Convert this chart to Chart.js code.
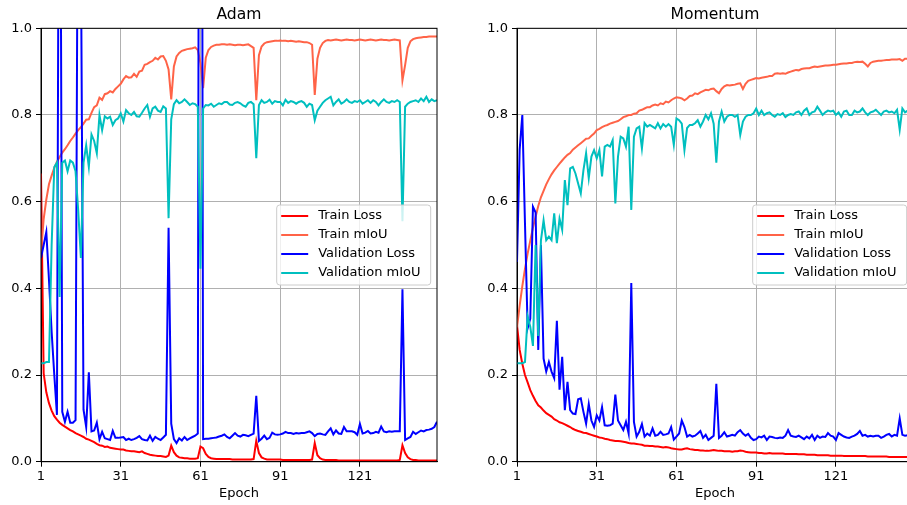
<!DOCTYPE html>
<html><head><meta charset="utf-8">
<script src="https://cdn.jsdelivr.net/npm/chart.js@4/dist/chart.umd.min.js"></script>
<style>
html,body{margin:0;padding:0;background:#fff;overflow:hidden;width:907px;height:505px;position:relative;}
#c1{position:absolute;left:0;top:0;}
#c2{position:absolute;left:476px;top:0;}
</style></head><body>
<canvas id="c1" width="478" height="505"></canvas>
<canvas id="c2" width="478" height="505"></canvas>
<script>
const epochs = Array.from({length:150},(_,i)=>i+1);
const xTicks = [1,31,61,91,121];
const yTicks = [0,0.2,0.4,0.6,0.8,1.0];
const seriesNames = ['Train Loss','Train mIoU','Validation Loss','Validation mIoU'];
const titles = ['Adam','Momentum'];

const adamTrainLoss = [
0.665,0.204,0.160,0.135,0.118,0.105,0.097,0.090,0.085,0.081,
0.077,0.073,0.070,0.066,0.063,0.060,0.057,0.053,0.051,0.048,
0.045,0.041,0.038,0.037,0.034,0.035,0.032,0.031,0.030,0.029,
0.028,0.028,0.026,0.025,0.024,0.024,0.023,0.022,0.024,0.020,
0.018,0.016,0.015,0.014,0.013,0.013,0.012,0.011,0.014,0.037,
0.022,0.014,0.010,0.009,0.008,0.008,0.007,0.007,0.007,0.008,
0.035,0.031,0.018,0.011,0.008,0.007,0.006,0.006,0.006,0.006,
0.006,0.006,0.005,0.005,0.005,0.005,0.005,0.005,0.005,0.005,
0.006,0.048,0.020,0.010,0.007,0.005,0.005,0.005,0.005,0.005,
0.005,0.004,0.004,0.004,0.004,0.004,0.004,0.004,0.004,0.004,
0.004,0.004,0.005,0.043,0.015,0.008,0.005,0.004,0.004,0.004,
0.004,0.004,0.003,0.003,0.003,0.003,0.003,0.003,0.003,0.003,
0.003,0.003,0.003,0.003,0.003,0.003,0.003,0.003,0.003,0.003,
0.003,0.003,0.003,0.003,0.003,0.004,0.038,0.020,0.010,0.006,
0.004,0.004,0.003,0.003,0.003,0.003,0.003,0.003,0.003,0.003];

const adamTrainMiou = [
0.480,0.560,0.605,0.640,0.660,0.678,0.692,0.703,0.713,0.721,
0.730,0.740,0.748,0.757,0.765,0.772,0.780,0.789,0.790,0.805,
0.818,0.822,0.840,0.835,0.848,0.850,0.855,0.852,0.860,0.866,
0.872,0.882,0.890,0.886,0.887,0.895,0.888,0.900,0.902,0.916,
0.918,0.922,0.925,0.932,0.928,0.935,0.936,0.925,0.905,0.836,
0.912,0.935,0.943,0.948,0.950,0.952,0.953,0.954,0.956,0.950,
0.920,0.862,0.932,0.950,0.957,0.960,0.962,0.962,0.963,0.963,
0.962,0.963,0.962,0.961,0.962,0.962,0.961,0.962,0.963,0.959,
0.955,0.834,0.938,0.958,0.965,0.968,0.969,0.970,0.971,0.971,
0.972,0.971,0.971,0.970,0.971,0.970,0.969,0.970,0.969,0.968,
0.968,0.966,0.962,0.846,0.930,0.955,0.966,0.971,0.973,0.972,
0.973,0.974,0.973,0.972,0.973,0.974,0.973,0.973,0.972,0.973,
0.974,0.973,0.972,0.973,0.974,0.973,0.972,0.973,0.974,0.973,
0.973,0.972,0.973,0.974,0.973,0.972,0.880,0.915,0.955,0.970,
0.975,0.977,0.978,0.979,0.980,0.980,0.981,0.981,0.981,0.981];

const adamValLoss = [
0.470,0.500,0.530,0.420,0.300,0.200,0.108,2.000,0.115,0.092,
0.115,0.090,0.090,0.096,1.600,1.200,0.120,0.080,0.206,0.070,
0.072,0.090,0.052,0.069,0.054,0.052,0.050,0.071,0.055,0.055,
0.056,0.057,0.050,0.053,0.050,0.052,0.055,0.059,0.052,0.050,
0.049,0.060,0.048,0.057,0.053,0.050,0.056,0.062,0.540,0.088,
0.052,0.043,0.054,0.049,0.057,0.050,0.054,0.057,0.060,0.065,
3.500,0.052,0.053,0.053,0.054,0.055,0.056,0.058,0.060,0.063,
0.057,0.054,0.060,0.066,0.060,0.058,0.062,0.061,0.059,0.062,
0.065,0.152,0.048,0.053,0.060,0.052,0.055,0.067,0.063,0.062,
0.063,0.065,0.069,0.066,0.066,0.064,0.066,0.065,0.066,0.066,
0.068,0.070,0.066,0.059,0.064,0.065,0.063,0.062,0.070,0.077,
0.063,0.072,0.065,0.064,0.080,0.070,0.070,0.070,0.068,0.062,
0.087,0.065,0.067,0.071,0.065,0.066,0.069,0.067,0.081,0.070,
0.068,0.070,0.069,0.070,0.070,0.070,0.398,0.050,0.054,0.057,
0.069,0.064,0.068,0.072,0.070,0.073,0.074,0.076,0.080,0.092];

const adamValMiou = [
0.227,0.227,0.230,0.230,0.500,0.680,0.690,0.380,0.690,0.695,
0.670,0.695,0.690,0.670,0.580,0.470,0.690,0.730,0.680,0.755,
0.740,0.712,0.800,0.765,0.797,0.792,0.796,0.777,0.788,0.792,
0.804,0.785,0.811,0.804,0.800,0.807,0.797,0.796,0.805,0.815,
0.823,0.796,0.815,0.819,0.810,0.807,0.820,0.815,0.562,0.790,
0.825,0.834,0.827,0.830,0.836,0.830,0.823,0.827,0.825,0.819,
0.445,0.815,0.823,0.822,0.826,0.819,0.823,0.827,0.825,0.830,
0.830,0.824,0.823,0.828,0.830,0.827,0.822,0.819,0.828,0.830,
0.825,0.700,0.823,0.834,0.828,0.830,0.835,0.826,0.832,0.830,
0.830,0.822,0.835,0.828,0.832,0.830,0.826,0.830,0.832,0.828,
0.819,0.826,0.823,0.788,0.810,0.819,0.828,0.834,0.838,0.842,
0.822,0.830,0.836,0.826,0.830,0.836,0.830,0.828,0.832,0.830,
0.834,0.826,0.830,0.834,0.828,0.834,0.830,0.822,0.830,0.836,
0.830,0.828,0.832,0.830,0.834,0.830,0.555,0.819,0.826,0.830,
0.832,0.834,0.830,0.838,0.832,0.842,0.830,0.836,0.832,0.834];

const momTrainLoss = [
0.315,0.258,0.226,0.200,0.183,0.165,0.152,0.140,0.130,0.125,
0.118,0.112,0.108,0.104,0.098,0.095,0.091,0.089,0.086,0.083,
0.080,0.076,0.073,0.071,0.069,0.067,0.066,0.064,0.062,0.060,
0.058,0.056,0.055,0.053,0.052,0.050,0.049,0.048,0.048,0.047,
0.046,0.045,0.043,0.042,0.042,0.041,0.040,0.039,0.037,0.037,
0.036,0.036,0.035,0.035,0.034,0.033,0.034,0.033,0.031,0.030,
0.029,0.028,0.028,0.030,0.031,0.029,0.028,0.027,0.027,0.026,
0.026,0.025,0.025,0.026,0.027,0.026,0.025,0.025,0.024,0.024,
0.024,0.023,0.024,0.024,0.026,0.025,0.023,0.022,0.021,0.021,
0.021,0.020,0.020,0.019,0.019,0.020,0.019,0.019,0.019,0.019,
0.019,0.018,0.018,0.018,0.018,0.018,0.017,0.017,0.017,0.016,
0.016,0.016,0.016,0.015,0.015,0.015,0.015,0.015,0.014,0.014,
0.014,0.014,0.014,0.013,0.013,0.013,0.013,0.013,0.013,0.013,
0.013,0.013,0.012,0.012,0.012,0.012,0.012,0.012,0.012,0.012,
0.011,0.011,0.011,0.011,0.011,0.011,0.011,0.011,0.011,0.011];

const momTrainMiou = [
0.310,0.360,0.405,0.445,0.480,0.510,0.540,0.565,0.590,0.610,
0.625,0.640,0.652,0.663,0.672,0.680,0.688,0.695,0.702,0.708,
0.712,0.720,0.725,0.730,0.735,0.740,0.745,0.746,0.752,0.757,
0.765,0.768,0.772,0.775,0.777,0.780,0.782,0.784,0.786,0.790,
0.795,0.797,0.800,0.800,0.803,0.804,0.810,0.812,0.815,0.818,
0.818,0.822,0.824,0.822,0.827,0.825,0.831,0.829,0.834,0.838,
0.841,0.840,0.838,0.834,0.838,0.844,0.845,0.850,0.848,0.852,
0.855,0.858,0.857,0.860,0.861,0.855,0.850,0.860,0.866,0.869,
0.868,0.869,0.870,0.872,0.873,0.860,0.872,0.879,0.881,0.883,
0.885,0.884,0.886,0.887,0.888,0.890,0.890,0.895,0.896,0.895,
0.896,0.895,0.898,0.900,0.902,0.904,0.903,0.906,0.907,0.908,
0.908,0.910,0.912,0.911,0.912,0.913,0.914,0.914,0.915,0.916,
0.916,0.917,0.918,0.919,0.919,0.920,0.920,0.922,0.923,0.922,
0.923,0.918,0.912,0.920,0.923,0.924,0.925,0.925,0.926,0.927,
0.927,0.928,0.928,0.928,0.929,0.925,0.930,0.930,0.931,0.931];

const momValLoss = [
0.461,0.720,0.800,0.550,0.308,0.330,0.588,0.575,0.258,0.500,
0.238,0.208,0.230,0.208,0.193,0.325,0.166,0.242,0.119,0.184,
0.119,0.111,0.110,0.144,0.146,0.115,0.088,0.133,0.095,0.080,
0.107,0.095,0.126,0.084,0.083,0.084,0.088,0.155,0.095,0.084,
0.073,0.092,0.065,0.412,0.092,0.058,0.069,0.087,0.058,0.065,
0.060,0.077,0.060,0.062,0.069,0.062,0.063,0.065,0.080,0.051,
0.058,0.065,0.095,0.080,0.058,0.062,0.058,0.060,0.065,0.071,
0.055,0.062,0.050,0.055,0.060,0.180,0.055,0.060,0.068,0.058,
0.060,0.062,0.060,0.068,0.073,0.065,0.060,0.064,0.055,0.050,
0.052,0.058,0.056,0.060,0.050,0.058,0.057,0.055,0.054,0.056,
0.055,0.060,0.073,0.060,0.058,0.057,0.060,0.056,0.052,0.058,
0.054,0.062,0.050,0.060,0.055,0.058,0.057,0.066,0.060,0.058,
0.050,0.066,0.062,0.058,0.056,0.055,0.058,0.060,0.064,0.071,
0.060,0.062,0.058,0.060,0.058,0.060,0.060,0.055,0.058,0.062,
0.064,0.058,0.062,0.060,0.100,0.062,0.060,0.061,0.062,0.060];

const momValMiou = [
0.227,0.227,0.227,0.230,0.336,0.311,0.267,0.500,0.290,0.510,
0.557,0.511,0.519,0.511,0.573,0.504,0.561,0.535,0.650,0.592,
0.677,0.680,0.665,0.642,0.619,0.673,0.712,0.654,0.704,0.719,
0.700,0.719,0.658,0.727,0.731,0.727,0.742,0.596,0.704,0.750,
0.746,0.727,0.773,0.581,0.750,0.769,0.773,0.723,0.781,0.773,
0.777,0.773,0.769,0.781,0.769,0.779,0.773,0.779,0.773,0.731,
0.792,0.788,0.780,0.719,0.770,0.777,0.777,0.781,0.788,0.773,
0.785,0.800,0.790,0.804,0.780,0.690,0.785,0.808,0.785,0.796,
0.800,0.800,0.796,0.800,0.754,0.785,0.796,0.800,0.800,0.804,
0.815,0.800,0.810,0.800,0.804,0.806,0.800,0.796,0.802,0.800,
0.804,0.795,0.800,0.802,0.800,0.806,0.808,0.800,0.810,0.815,
0.800,0.806,0.808,0.819,0.810,0.800,0.806,0.810,0.808,0.810,
0.800,0.806,0.796,0.808,0.810,0.800,0.800,0.810,0.806,0.808,
0.815,0.806,0.800,0.806,0.808,0.812,0.806,0.800,0.808,0.810,
0.806,0.808,0.804,0.812,0.766,0.815,0.806,0.810,0.815,0.810];

const colors = ['#ff0000','#ff6347','#0000ff','#00bfbf'];
const FONT = 'DejaVu Sans';

const framePlugin = {
  id:'frame',
  afterDatasetsDraw(chart){
    const {ctx, chartArea:a} = chart;
    ctx.save();
    ctx.strokeStyle = '#000';
    ctx.lineWidth = 1;
    ctx.strokeRect(a.left, a.top, a.right - a.left, a.bottom - a.top);
    ctx.restore();
  }
};

const titlePlugin = {
  id:'axesTitle',
  afterDraw(chart, args, opts){
    const {ctx, chartArea:a} = chart;
    ctx.save();
    ctx.font = '15.6px "' + FONT + '"';
    ctx.fillStyle = '#000';
    ctx.textAlign = 'center';
    ctx.textBaseline = 'middle';
    ctx.fillText(opts.text, (a.left + a.right) / 2, 15.2);
    ctx.restore();
  }
};

const legendPlugin = {
  id:'boxLegend',
  afterDraw(chart){
    const {ctx, chartArea:a} = chart;
    const ds = chart.data.datasets;
    const w = 154, h = 80, rowH = 19;
    const x = a.right - 6.3 - w;
    const y = (a.top + a.bottom) / 2 - h / 2;
    ctx.save();
    ctx.beginPath();
    if (ctx.roundRect) ctx.roundRect(x, y, w, h, 3); else ctx.rect(x, y, w, h);
    ctx.fillStyle = 'rgba(255,255,255,0.8)';
    ctx.fill();
    ctx.strokeStyle = '#cccccc';
    ctx.lineWidth = 1;
    ctx.stroke();
    ctx.font = '13px "' + FONT + '"';
    ctx.textBaseline = 'middle';
    ctx.textAlign = 'left';
    ds.forEach((d, i) => {
      const yy = y + 11 + i * rowH;
      ctx.strokeStyle = d.borderColor;
      ctx.lineWidth = 2;
      ctx.beginPath();
      ctx.moveTo(x + 4.5, yy);
      ctx.lineTo(x + 31.5, yy);
      ctx.stroke();
      ctx.fillStyle = '#000';
      ctx.fillText(d.label, x + 41.5, yy);
    });
    ctx.restore();
  }
};

function toXY(arr){ return epochs.map((e, i) => ({x: e, y: arr[i]})); }

function makeChart(id, title, series){
  const tickFont = {family: FONT, size: 13};
  return new Chart(document.getElementById(id), {
    type: 'line',
    data: {
      datasets: series.map((arr, i) => ({
        label: seriesNames[i],
        data: toXY(arr),
        borderColor: colors[i],
        backgroundColor: colors[i],
        borderWidth: 2,
        pointRadius: 0,
        pointHoverRadius: 0,
        tension: 0,
        fill: false,
        clip: 0,
        order: 4 - i
      }))
    },
    options: {
      responsive: false,
      animation: false,
      devicePixelRatio: 1,
      layout: {padding: {left: 0, right: 41, top: 28.3, bottom: 0}},
      plugins: {
        legend: {display: false},
        tooltip: {enabled: false},
        title: {display: false},
        axesTitle: {text: title}
      },
      scales: {
        x: {
          type: 'linear', min: 1, max: 150,
          afterBuildTicks: s => { s.ticks = xTicks.map(v => ({value: v})); },
          afterFit: s => { s.height = 43.3; },
          ticks: {color: '#000', font: tickFont, padding: 2, maxRotation: 0, autoSkip: false,
                  callback: v => String(v)},
          grid: {color: '#b0b0b0', lineWidth: 1, tickColor: '#000', tickLength: 5, drawTicks: true},
          border: {display: true, color: '#000', width: 1},
          title: {display: true, text: 'Epoch', color: '#000', font: tickFont,
                  padding: {top: 0, bottom: 3.7}}
        },
        y: {
          min: 0, max: 1,
          afterBuildTicks: s => { s.ticks = yTicks.map(v => ({value: v})); },
          afterFit: s => { s.width = 41; },
          ticks: {color: '#000', font: tickFont, padding: 4, callback: v => Number(v).toFixed(1)},
          grid: {color: '#b0b0b0', lineWidth: 1, tickColor: '#000', tickLength: 5, drawTicks: true},
          border: {display: true, color: '#000', width: 1}
        }
      }
    },
    plugins: [framePlugin, titlePlugin, legendPlugin]
  });
}

makeChart('c1', titles[0], [adamTrainLoss, adamTrainMiou, adamValLoss, adamValMiou]);
makeChart('c2', titles[1], [momTrainLoss, momTrainMiou, momValLoss, momValMiou]);
</script>
</body></html>
